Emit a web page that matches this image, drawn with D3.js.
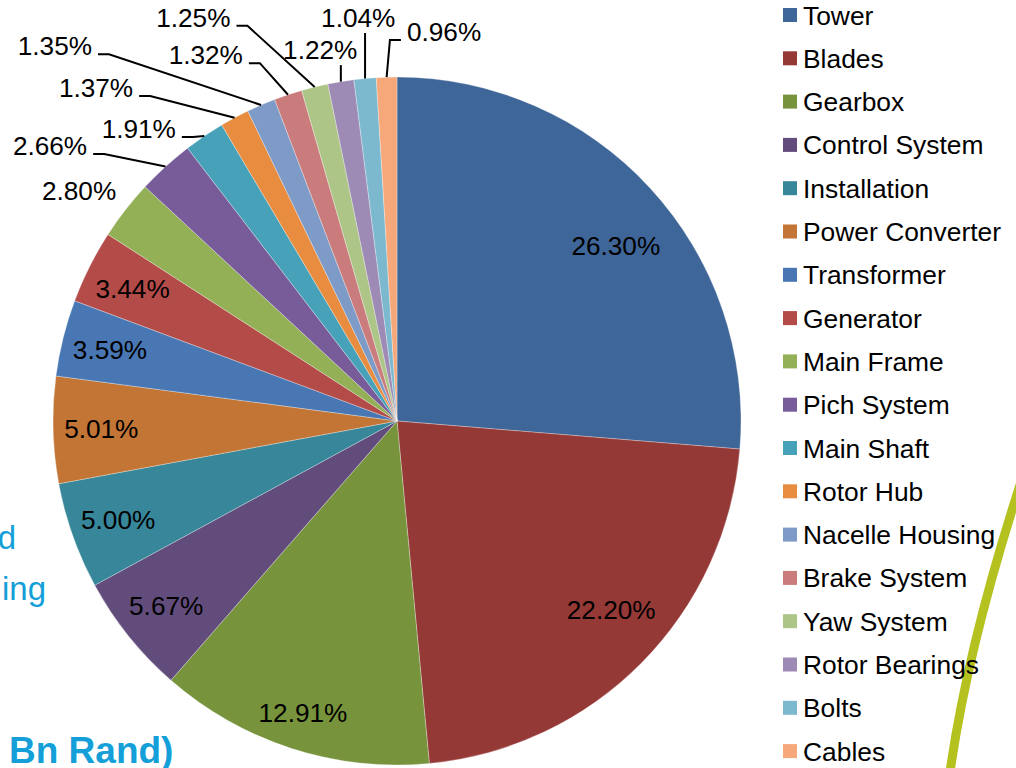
<!DOCTYPE html>
<html>
<head>
<meta charset="utf-8">
<style>
    body { margin: 0; background: #fff; }
    svg { display: block; font-family: "Liberation Sans", Arial, sans-serif; }
    .pct { font-size: 26.2px; fill: #000; }
    .legend text { font-size: 26.4px; fill: #000; }
    .bg-text { fill: #159fd9; }
</style>
</head>
<body>
<svg width="1016" height="768"></svg>

<script src="https://cdnjs.cloudflare.com/ajax/libs/d3/7.8.5/d3.min.js"></script>
<script>
    // components, in pie order (clockwise from 12 o'clock)
    let parts = ["Tower", "Blades", "Gearbox", "Control System", "Installation",
        "Power Converter", "Transformer", "Generator", "Main Frame", "Pich System",
        "Main Shaft", "Rotor Hub", "Nacelle Housing", "Brake System", "Yaw System",
        "Rotor Bearings", "Bolts", "Cables"]

    let shares = [26.30, 22.20, 12.91, 5.67, 5.00, 5.01, 3.59, 3.44, 2.80, 2.66,
        1.91, 1.37, 1.35, 1.32, 1.25, 1.22, 1.04, 0.96]

    let sliceColors = [
        "#3f6698", "#953937", "#77933c", "#624c7c", "#37869a", "#c27535",
        "#4877b3", "#b34b48", "#93b056", "#775c99", "#47a1b9", "#e88c3f",
        "#7e9bc8", "#c97c7b", "#adc687", "#9d8ab5", "#7cb9cf", "#f6a87a"
    ]

    let width = 1016
    let height = 768
    let cx = 397, cy = 421, radius = 344

    // label layout: [angle in degrees, distance as share of radius, leader line?]
    // slices not listed sit inside at 0.86 of the radius
    let labelSpots = {
        "Tower": [51.3, 0.815, false],
        "Blades": [131.4, 0.83, false],
        "Gearbox": [197.9, 0.89, false],
        "Main Frame": [305.9, 1.141, false],
        "Pich System": [308.4, 1.287, true],
        "Main Shaft": [318.5, 1.133, true],
        "Rotor Hub": [317.9, 1.305, true],
        "Nacelle Housing": [317.6, 1.475, true],
        "Brake System": [332.4, 1.2, true],
        "Yaw System": [333.2, 1.313, true],
        "Rotor Bearings": [348.3, 1.101, true],
        "Bolts": [354.5, 1.177, true],
        "Cables": [6.9, 1.139, true]
    }

    let data = parts.map((p, i) => ({ part: p, share: shares[i] }))

    let svg = d3.select("svg")

    let color = d3.scaleOrdinal()
        .domain(parts)
        .range(sliceColors)

    // slide text sitting behind the chart
    svg.append("text").attr("class", "bg-text")
        .attr("x", 16).attr("y", 549).attr("text-anchor", "end")
        .style("font-size", "33px").text("d")
    svg.append("text").attr("class", "bg-text")
        .attr("x", 46).attr("y", 600).attr("text-anchor", "end")
        .style("font-size", "33px").text("ing")
    svg.append("text").attr("class", "bg-text")
        .attr("x", 9).attr("y", 763)
        .style("font-size", "37px").style("font-weight", "bold").text("Bn Rand)")

    // green swoosh on the right
    svg.append("path")
        .attr("d", "M1021,482 C997,556 966,660 950,772")
        .attr("fill", "none")
        .attr("stroke", "#b4c11f")
        .attr("stroke-width", 9)

    let pie = d3.pie()
        .sort(null)
        .value(d => d.share)

    let arcs = pie(data)

    let arc = d3.arc()
        .innerRadius(0)
        .outerRadius(radius)

    let g = svg.append("g")
        .attr("transform", `translate(${cx},${cy})`)

    g.selectAll("path")
        .data(arcs)
        .join("path")
        .attr("d", arc)
        .attr("fill", d => color(d.data.part))
        .attr("stroke", "#fff")
        .attr("stroke-width", 0.6)
        .attr("stroke-opacity", 0.5)

    function polar(angleDeg, dist) {
        let a = angleDeg * Math.PI / 180
        return [dist * Math.sin(a), -dist * Math.cos(a)]
    }

    let fmt = d3.format(".2f")

    arcs.forEach(d => {
        let midDeg = (d.startAngle + d.endAngle) / 2 * 180 / Math.PI
        let spot = labelSpots[d.data.part] || [midDeg, 0.86, false]
        let [lx, ly] = polar(spot[0], spot[1] * radius)

        let t = g.append("text")
            .attr("class", "pct")
            .attr("x", lx)
            .attr("y", ly)
            .attr("dy", "0.35em")
            .attr("text-anchor", "middle")
            .text(fmt(d.data.share) + "%")

        if (!spot[2]) return

        let w = t.node().getComputedTextLength()
        let [ex, ey] = polar(midDeg, radius)
        let pts
        if (ex >= lx - w / 2 && ex <= lx + w / 2) {
            pts = [[ex, ly + 15], [ex, ey]]
        } else if (ex > lx + w / 2) {
            pts = [[lx + w / 2 + 6, ly + 8], [lx + w / 2 + 17, ly + 8], [ex, ey]]
        } else {
            pts = [[lx - w / 2 - 6, ly + 8], [lx - w / 2 - 17, ly + 8], [ex, ey]]
        }
        g.append("path")
            .attr("d", d3.line()(pts))
            .attr("fill", "none")
            .attr("stroke", "#000")
            .attr("stroke-width", 2)
    })

    // legend
    let rowY = d3.scalePoint()
        .domain(parts)
        .range([15, 15 + 17 * 43.3])

    let legend = svg.append("g").attr("class", "legend")

    let rows = legend.selectAll("g")
        .data(parts)
        .join("g")
        .attr("transform", d => `translate(783,${rowY(d)})`)

    rows.append("rect")
        .attr("x", 0)
        .attr("y", -7)
        .attr("width", 14)
        .attr("height", 14)
        .attr("fill", d => color(d))

    rows.append("text")
        .attr("x", 20)
        .attr("y", 0)
        .attr("dy", "0.36em")
        .text(d => d)
</script>
</body>
</html>
